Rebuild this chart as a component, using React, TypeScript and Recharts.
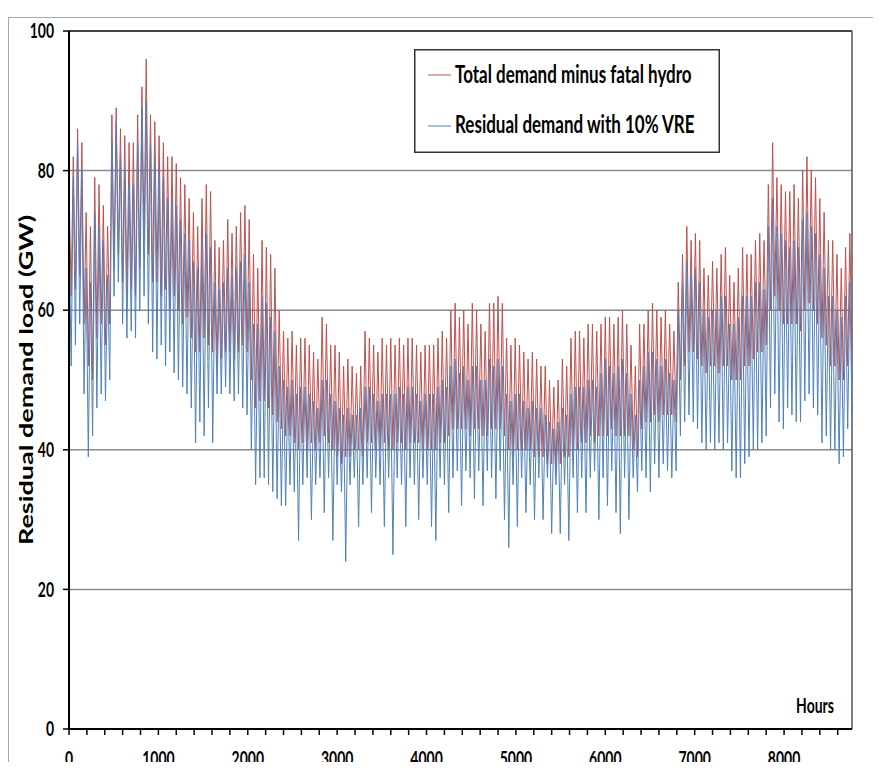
import {
  CartesianGrid,
  Label,
  Legend,
  Line,
  LineChart,
  ReferenceLine,
  XAxis,
  YAxis,
} from "recharts";

// daily samples (every 24 h), alternating day peak / night trough
const SAMPLE_STEP_HOURS = 24;

const totalDemand = [
  78, 62, 82, 63, 86, 65, 84, 58, 74, 52, 72, 50, 79, 56, 78, 58, 75, 55, 72, 58,
  88, 66, 89, 68, 86, 64, 85, 62, 84, 63, 84, 62, 88, 66, 92, 70, 96, 68, 88, 64,
  87, 64, 85, 62, 84, 63, 82, 60, 82, 62, 81, 60, 79, 58, 78, 59, 76, 56, 74, 54,
  72, 54, 76, 56, 78, 55, 77, 54, 70, 52, 69, 53, 70, 54, 73, 54, 71, 53, 72, 54,
  74, 55, 75, 54, 73, 50, 68, 46, 66, 47, 70, 47, 69, 46, 68, 45, 66, 44, 60, 43,
  57, 42, 56, 42, 57, 41, 55, 40, 56, 41, 56, 40, 55, 41, 54, 40, 53, 41, 59, 42,
  58, 41, 55, 40, 55, 39, 54, 38, 52, 39, 53, 39, 52, 40, 51, 40, 52, 39, 57, 41,
  56, 41, 55, 40, 54, 40, 56, 41, 55, 40, 56, 40, 55, 41, 56, 41, 55, 40, 56, 41,
  56, 41, 55, 41, 54, 40, 55, 40, 55, 40, 55, 40, 56, 41, 57, 41, 56, 42, 60, 43,
  61, 43, 59, 43, 60, 43, 58, 42, 61, 43, 60, 43, 58, 42, 57, 42, 61, 43, 61, 43,
  62, 43, 61, 42, 56, 40, 55, 39, 56, 40, 55, 40, 54, 40, 53, 40, 54, 39, 53, 39,
  52, 39, 52, 38, 50, 38, 49, 37, 50, 38, 53, 39, 52, 39, 56, 40, 57, 40, 57, 41,
  56, 41, 58, 42, 58, 41, 57, 42, 58, 42, 59, 42, 59, 43, 58, 42, 59, 42, 60, 42,
  58, 42, 55, 40, 52, 39, 58, 43, 58, 44, 60, 44, 61, 45, 60, 44, 59, 45, 60, 45,
  58, 45, 57, 44, 64, 50, 68, 52, 72, 54, 70, 54, 71, 53, 70, 52, 66, 51, 65, 52,
  67, 52, 66, 51, 68, 52, 69, 52, 65, 50, 64, 50, 66, 50, 69, 52, 68, 52, 68, 53,
  70, 54, 71, 54, 70, 55, 78, 60, 84, 62, 79, 60, 78, 58, 77, 58, 77, 58, 78, 58,
  76, 57, 80, 60, 82, 61, 80, 60, 79, 58, 76, 56, 74, 55, 70, 52, 70, 52, 68, 50,
  66, 50, 69, 52, 71, 54,
];

const residualDemand = [
  72, 52, 79, 55, 84, 58, 80, 48, 66, 39, 64, 42, 74, 46, 72, 48, 70, 47, 65, 50,
  84, 62, 87, 64, 82, 58, 80, 56, 78, 57, 78, 56, 84, 60, 89, 62, 90, 58, 84, 54,
  82, 53, 80, 55, 79, 52, 76, 54, 76, 51, 75, 50, 73, 49, 71, 48, 70, 46, 67, 41,
  66, 44, 70, 42, 71, 46, 69, 41, 64, 48, 63, 48, 64, 49, 66, 48, 65, 47, 66, 48,
  67, 46, 68, 45, 64, 40, 58, 35, 58, 36, 62, 36, 61, 35, 59, 34, 57, 33, 52, 32,
  50, 32, 49, 35, 50, 34, 48, 27, 49, 35, 49, 36, 48, 30, 47, 35, 46, 36, 50, 31,
  50, 36, 48, 27, 47, 35, 46, 34, 45, 24, 46, 35, 45, 36, 45, 29, 46, 35, 49, 36,
  49, 31, 48, 36, 47, 35, 48, 29, 48, 36, 48, 25, 48, 36, 49, 35, 48, 29, 49, 36,
  49, 35, 48, 30, 47, 36, 48, 35, 48, 29, 48, 27, 49, 36, 50, 35, 49, 31, 52, 36,
  53, 37, 51, 32, 52, 37, 50, 36, 52, 33, 52, 37, 50, 32, 50, 37, 53, 36, 52, 33,
  53, 37, 52, 30, 48, 26, 47, 35, 48, 29, 48, 36, 47, 31, 46, 35, 47, 30, 46, 36,
  46, 30, 45, 36, 44, 28, 43, 35, 44, 28, 46, 35, 45, 27, 48, 36, 49, 31, 49, 36,
  49, 31, 50, 36, 50, 37, 49, 30, 51, 36, 53, 32, 52, 37, 51, 31, 52, 28, 53, 36,
  51, 30, 48, 36, 45, 34, 50, 37, 52, 36, 54, 34, 54, 38, 53, 36, 52, 38, 53, 37,
  51, 36, 50, 37, 60, 42, 64, 44, 67, 45, 65, 44, 66, 43, 64, 41, 60, 40, 59, 41,
  60, 40, 60, 41, 62, 40, 62, 41, 58, 37, 58, 36, 59, 36, 62, 38, 62, 39, 62, 40,
  64, 40, 64, 41, 63, 42, 72, 46, 76, 48, 72, 44, 71, 43, 70, 46, 69, 45, 70, 44,
  69, 44, 73, 47, 74, 48, 72, 46, 71, 45, 68, 41, 66, 42, 62, 40, 62, 40, 60, 38,
  59, 39, 62, 43, 64, 45,
];

const yTicks = [0, 20, 40, 60, 80, 100];
const xTicks = Array.from({ length: 44 }, (_, i) => i * 200); // minor ticks every 200 h

const seriesNames = ["Total demand minus fatal hydro", "Residual demand with 10% VRE"];
const RED = "#C0504D";
const BLUE = "#4F81BD";
const FONT = "Lato, 'Open Sans', sans-serif";
const STRETCH = 1.45; // the source image is squashed horizontally

const data = totalDemand.map((v, i) => ({
  h: i * SAMPLE_STEP_HOURS,
  total: v,
  residual: residualDemand[i],
}));

function YTick({ x, y, payload }: any) {
  return (
    <g transform={`translate(${x},${y}) scale(1,${STRETCH})`}>
      <text textAnchor="end" dy="0.35em" fontFamily={FONT} fontWeight={700} fontSize={14} fill="#000">
        {payload.value}
      </text>
    </g>
  );
}

function XTick({ x, y, payload }: any) {
  if (payload.value % 1000 !== 0) return <g />;
  return (
    <g transform={`translate(${x},${y}) scale(1,${STRETCH})`}>
      <text textAnchor="middle" y={20} fontFamily={FONT} fontWeight={700} fontSize={14} fill="#000">
        {payload.value}
      </text>
    </g>
  );
}

function LegendBox() {
  const rows = [
    { name: seriesNames[0], color: RED, line: 26, base: 34 },
    { name: seriesNames[1], color: BLUE, line: 77, base: 84 },
  ];
  return (
    <svg width={306} height={104} style={{ display: "block" }}>
      <rect x={0.75} y={0.75} width={304.5} height={102.5} fill="#fff" stroke="#333" strokeWidth={1.5} />
      {rows.map((r) => (
        <g key={r.name}>
          <line x1={14} x2={37} y1={r.line} y2={r.line} stroke={r.color} strokeWidth={1} />
          <g transform={`translate(41,${r.base}) scale(1,${STRETCH})`}>
            <text fontFamily={FONT} fontWeight={700} fontSize={17} fill="#000">
              {r.name}
            </text>
          </g>
        </g>
      ))}
    </svg>
  );
}

const frame = (style: React.CSSProperties) => (
  <div style={{ position: "absolute", background: "#a6a6a6", ...style }} />
);

export default function App() {
  return (
    <div style={{ position: "relative", margin: -8, width: 881, height: 770, background: "#fff" }}>
      {frame({ left: 28, top: 5, width: 853, height: 1 })}
      {frame({ left: 8, top: 17, width: 870, height: 1 })}
      {frame({ left: 8, top: 17, width: 1, height: 753 })}
      {frame({ left: 877, top: 17, width: 1, height: 744 })}
      {frame({ left: 877, top: 760, width: 4, height: 1 })}
      <div style={{ position: "absolute", left: 0, top: 0 }}>
        <LineChart width={881} height={770} data={data} margin={{ top: 31, right: 29, bottom: 5, left: 29 }}>
          <CartesianGrid vertical={false} stroke="#8c8c8c" strokeWidth={1.5} />
          <XAxis
            dataKey="h"
            type="number"
            domain={[0, 8760]}
            ticks={xTicks}
            interval={0}
            height={36}
            tick={<XTick />}
            tickSize={6}
            tickLine={{ stroke: "#000", strokeWidth: 1.5 }}
            axisLine={{ stroke: "#000", strokeWidth: 2 }}
          >
            <Label
              content={() => (
                <g transform={`translate(815,713) scale(1,${STRETCH})`}>
                  <text textAnchor="middle" fontFamily={FONT} fontWeight={700} fontSize={14} fill="#000">
                    Hours
                  </text>
                </g>
              )}
            />
          </XAxis>
          <YAxis
            domain={[0, 100]}
            ticks={yTicks}
            interval={0}
            width={40}
            tick={<YTick />}
            tickSize={6}
            tickMargin={9}
            tickLine={{ stroke: "#000", strokeWidth: 1.5 }}
            axisLine={{ stroke: "#000", strokeWidth: 2 }}
          >
            <Label
              content={() => (
                <g transform={`translate(33,380) rotate(-90) scale(1.5,1)`}>
                  <text textAnchor="middle" fontFamily={FONT} fontWeight={700} fontSize={18} fill="#000">
                    Residual demand load (GW)
                  </text>
                </g>
              )}
            />
          </YAxis>
          <ReferenceLine y={100} stroke="#222" strokeWidth={1.5} />
          <ReferenceLine x={8760} stroke="#555" strokeWidth={1.5} />
          <Legend
            layout="vertical"
            align="center"
            verticalAlign="middle"
            content={() => <LegendBox />}
            wrapperStyle={{ left: 414, top: 49, width: 306, height: 104 }}
          />
          <Line
            type="linear"
            dataKey="total"
            name={seriesNames[0]}
            stroke={RED}
            strokeWidth={1}
            dot={false}
            isAnimationActive={false}
          />
          <Line
            type="linear"
            dataKey="residual"
            name={seriesNames[1]}
            stroke={BLUE}
            strokeWidth={1}
            dot={false}
            isAnimationActive={false}
          />
        </LineChart>
      </div>
    </div>
  );
}
